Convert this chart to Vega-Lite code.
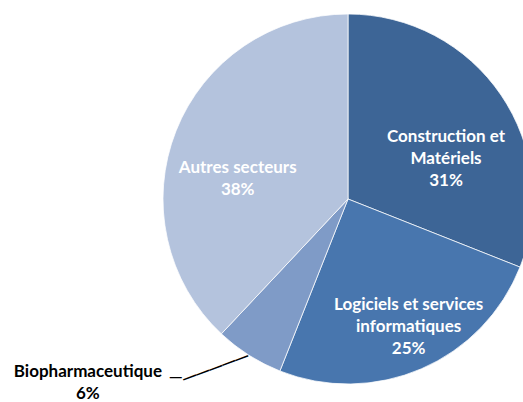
{
  "$schema": "https://vega.github.io/schema/vega-lite/v6.json",
  "width": 350,
  "height": 396,
  "autosize": {"type": "none"},
  "padding": {"left": 173, "top": 1, "right": 0, "bottom": 5},
  "background": "white",
  "view": {"stroke": null},
  "data": {
    "values": [
      {"category": "Construction et Matériels", "label": "Construction et\nMatériels\n31%", "value": 31, "order": 1},
      {"category": "Logiciels et services informatiques", "label": "Logiciels et services\ninformatiques\n25%", "value": 25, "order": 2},
      {"category": "Biopharmaceutique", "label": "Biopharmaceutique\n6%", "value": 6, "order": 3},
      {"category": "Autres secteurs", "label": "Autres secteurs\n38%", "value": 38, "order": 4}
    ]
  },
  "encoding": {
    "theta": {"field": "value", "type": "quantitative", "stack": true},
    "order": {"field": "order", "type": "quantitative"}
  },
  "layer": [
    {
      "mark": {"type": "arc", "radius": 185, "stroke": "#ffffff", "strokeWidth": 0.75},
      "encoding": {
        "color": {
          "field": "category",
          "type": "nominal",
          "scale": {
            "domain": ["Construction et Matériels", "Logiciels et services informatiques", "Biopharmaceutique", "Autres secteurs"],
            "range": ["#3D6596", "#4876AE", "#7F9BC7", "#B4C3DD"]
          },
          "legend": null
        }
      }
    },
    {
      "mark": {"type": "text", "radius": 104, "dx": 12, "dy": -4, "font": "Lato", "fontWeight": "bold", "fontSize": 17, "lineBreak": "\n", "lineHeight": 22, "fill": "#ffffff", "align": "center", "baseline": "middle"},
      "encoding": {"text": {"condition": {"test": "datum.category === 'Construction et Matériels'", "field": "label"}, "value": ""}}
    },
    {
      "mark": {"type": "text", "radius": 140, "dx": 5, "dy": -22, "font": "Lato", "fontWeight": "bold", "fontSize": 17, "lineBreak": "\n", "lineHeight": 22, "fill": "#ffffff", "align": "center", "baseline": "middle"},
      "encoding": {"text": {"condition": {"test": "datum.category === 'Logiciels et services informatiques'", "field": "label"}, "value": ""}}
    },
    {
      "mark": {"type": "text", "radius": 110, "dx": -8, "dy": 9, "font": "Lato", "fontWeight": "bold", "fontSize": 17, "lineBreak": "\n", "lineHeight": 22, "fill": "#ffffff", "align": "center", "baseline": "middle"},
      "encoding": {"text": {"condition": {"test": "datum.category === 'Autres secteurs'", "field": "label"}, "value": ""}}
    },
    {
      "mark": {"type": "text", "radius": 185, "dx": -161, "dy": 17, "font": "Lato", "fontWeight": "bold", "fontSize": 17, "lineBreak": "\n", "lineHeight": 22, "fill": "#000000", "align": "center", "baseline": "middle"},
      "encoding": {"text": {"condition": {"test": "datum.category === 'Biopharmaceutique'", "field": "label"}, "value": ""}}
    },
    {
      "mark": {"type": "text", "radius": 185, "dx": -1, "dy": 0, "angle": -20.3, "font": "Liberation Sans", "fontSize": 13.8, "fontWeight": "bold", "fill": "#000000", "align": "right", "baseline": "middle"},
      "encoding": {"text": {"condition": {"test": "datum.category === 'Biopharmaceutique'", "value": "—————"}, "value": ""}}
    },
    {
      "mark": {"type": "text", "radius": 185, "dx": -73, "dy": 22, "font": "Liberation Sans", "fontSize": 12, "fontWeight": "bold", "fill": "#000000", "align": "center", "baseline": "middle"},
      "encoding": {"text": {"condition": {"test": "datum.category === 'Biopharmaceutique'", "value": "—"}, "value": ""}}
    }
  ]
}
